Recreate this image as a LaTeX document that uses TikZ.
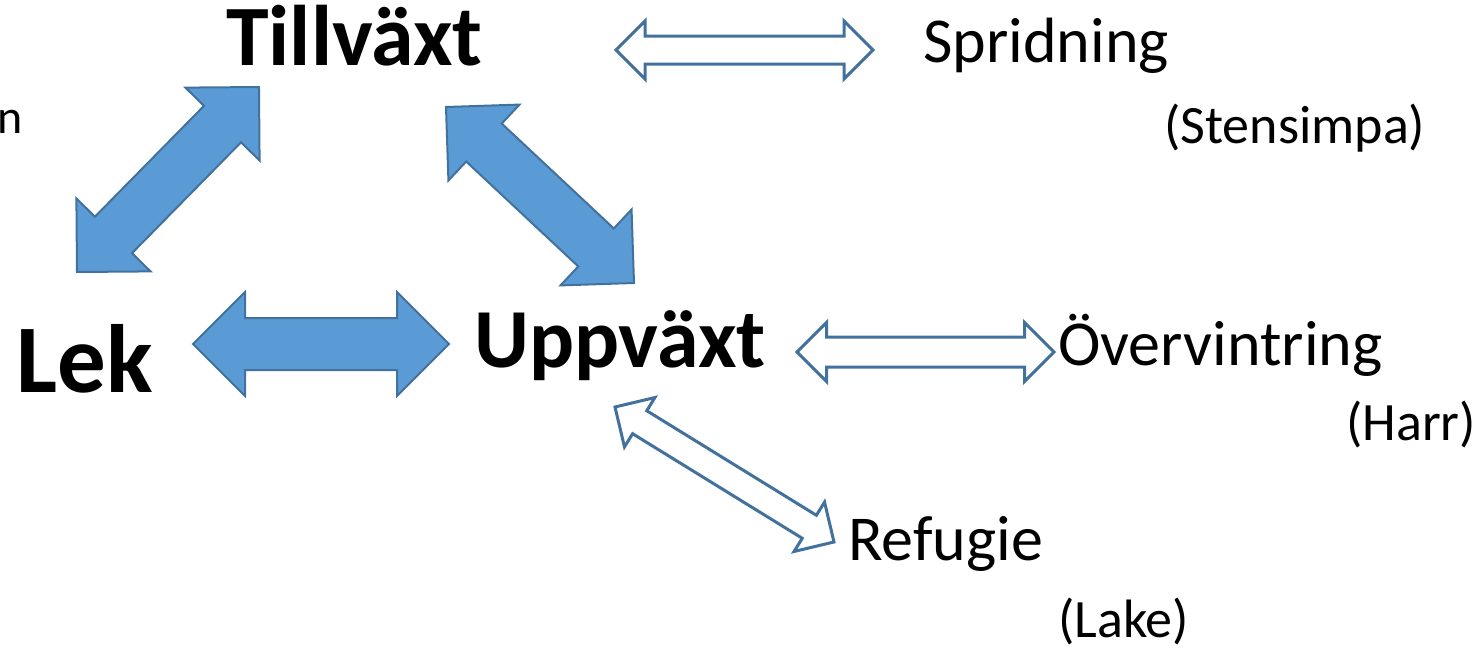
\documentclass[tikz,border=0pt]{standalone}
\usepackage{fontspec}
\setmainfont{Carlito}
\usetikzlibrary{calc}
\definecolor{abfill}{HTML}{5B9BD5}
\definecolor{abline}{HTML}{41719C}
\tikzset{
  filledarrow/.style={fill=abfill,draw=abline,line width=2pt,line join=miter},
  openarrow/.style={fill=white,draw=abline,line width=3pt,line join=miter},
  bigbold/.style={inner sep=0pt,anchor=base west,font=\fontsize{86}{90}\selectfont\bfseries},
  midtext/.style={inner sep=0pt,anchor=base west,font=\fontsize{64}{68}\selectfont},
  smalltext/.style={inner sep=0pt,anchor=base west,font=\fontsize{54}{58}\selectfont},
}
\newcommand\blockarrow[5]{%
  \path (#2); \pgfgetlastxy{\bax}{\bay}%
  \path (#3); \pgfgetlastxy{\bbx}{\bby}%
  \pgfmathsetmacro\baang{atan2(\bby-\bay,\bbx-\bax)}%
  \pgfmathsetmacro\balen{veclen(\bbx-\bax,\bby-\bay)}%
  \begin{scope}[shift={(#2)},rotate=\baang]
    \draw[#1] (0,0) -- (#4,#4) -- (#4,#5) -- ({\balen-#4},#5) -- ({\balen-#4},#4)
      -- (\balen,0) -- ({\balen-#4},-#4) -- ({\balen-#4},-#5) -- (#4,-#5) -- (#4,-#4) -- cycle;
  \end{scope}}
\begin{document}
\begin{tikzpicture}[x=1pt,y=-1pt]
\useasboundingbox (0,0) rectangle (1481,653);
% text nodes
\node[bigbold] (till) at (226,65) {Tillväxt};
\node[bigbold,font=\fontsize{84}{88}\selectfont\bfseries] (upp) at (474,367) {Uppväxt};
\node[bigbold,font=\fontsize{97}{100}\selectfont\bfseries] (lek) at (16,392) {Lek};
\node[midtext] (sprid) at (923,62) {Spridning};
\node[smalltext] (sten) at (1164,143) {(Stensimpa)};
\node[midtext] (over) at (1058,365) {Övervintring};
\node[smalltext] (harr) at (1346,440) {(Harr)};
\node[midtext] (ref) at (848,560) {Refugie};
\node[smalltext] (lake) at (1058,637) {(Lake)};
\node[smalltext,font=\fontsize{48}{52}\selectfont] (cut) at (-3,133) {n};
% arrow end points
\coordinate (a1s) at (616,50);  \coordinate (a1e) at (873,50);
\coordinate (a2s) at (77,272);  \coordinate (a2e) at (259,87);
\coordinate (a3s) at (446,107); \coordinate (a3e) at (634,283);
\coordinate (a4s) at (193,344); \coordinate (a4e) at (449,344);
\coordinate (a5s) at (797,352); \coordinate (a5e) at (1054,352);
\coordinate (a6s) at (615,407); \coordinate (a6e) at (834,542);
\blockarrow{openarrow}{a1s}{a1e}{29}{14}
\blockarrow{filledarrow}{a2s}{a2e}{52}{26}
\blockarrow{filledarrow}{a3s}{a3e}{52}{26}
\blockarrow{filledarrow}{a4s}{a4e}{52}{26}
\blockarrow{openarrow}{a5s}{a5e}{29.5}{15}
\blockarrow{openarrow}{a6s}{a6e}{29}{13.5}
\end{tikzpicture}
\end{document}
